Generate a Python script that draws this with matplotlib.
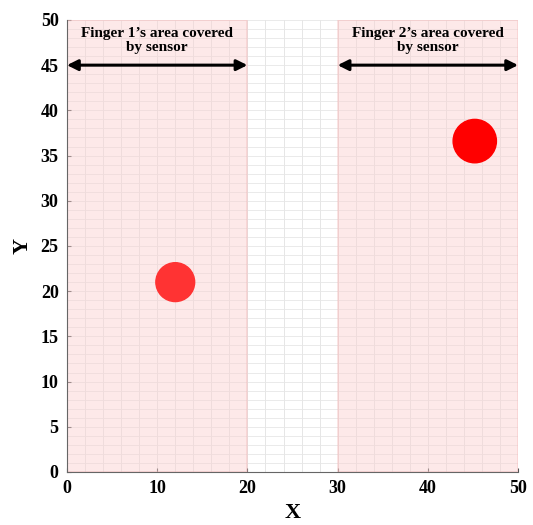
import matplotlib
matplotlib.use("Agg")
import matplotlib.pyplot as plt
from matplotlib.patches import Circle, Rectangle

# dados
areas = [(0, 20), (30, 50)]          # regioes cobertas pelo sensor (x)
area_labels = ["Finger 1\u2019s area covered\nby sensor",
               "Finger 2\u2019s area covered\nby sensor"]
arrow_y = 45
dedos_x = [12, 45.2]
dedos_y = [21, 36.6]
dedos_r = [2.15, 2.4]
dedos_cor = ["#ff3333", "#ff0000"]
ticks = [0, 10, 20, 30, 40, 50]
yticks = [0, 5, 10, 15, 20, 25, 30, 35, 40, 45, 50]

plt.rcParams['font.family'] = ['Liberation Serif', 'DejaVu Serif']
plt.rcParams['font.weight'] = 'bold'

fig = plt.figure(figsize=(5.33, 5.25), dpi=100)
ax = fig.add_axes([0.1257, 0.101, 0.8463, 0.861])

ax.set_xlim(0, 50)
ax.set_ylim(0, 50)

# grade fina
for gx in range(0, 51, 2):
    ax.axvline(gx, color="#e2e2e2", lw=0.6, zorder=1)
for gy in range(0, 51, 1):
    ax.axhline(gy, color="#e6e6e6", lw=0.6, zorder=1)

# areas rosadas
for (a, b) in areas:
    ax.add_patch(Rectangle((a, 0), b - a, 50, facecolor="#fbd0d0", alpha=0.45,
                           edgecolor="#f4b8b8", lw=1.2, zorder=2))

# setas e textos
for (a, b), lab in zip(areas, area_labels):
    ax.annotate("", xy=(a, arrow_y), xytext=(b, arrow_y),
                arrowprops=dict(arrowstyle="<|-|>", color="black", lw=2.2,
                                mutation_scale=16, shrinkA=0, shrinkB=0), zorder=5)
    ax.text((a + b) / 2, 47.7, lab, ha="center", va="center", fontsize=11,
            fontweight="bold", linespacing=1.15, zorder=5)

# dedos
for x, y, r, c in zip(dedos_x, dedos_y, dedos_r, dedos_cor):
    ax.add_patch(Circle((x, y), r, color=c, zorder=4))

ax.set_xticks(ticks)
ax.set_yticks(yticks)
ax.tick_params(direction="in", length=3, labelsize=13, color="#555555", pad=6)
for lab in ax.get_xticklabels() + ax.get_yticklabels():
    lab.set_fontweight("bold")
ax.spines["top"].set_visible(False)
ax.spines["right"].set_visible(False)
ax.spines["left"].set_color("#666666")
ax.spines["bottom"].set_color("#666666")
ax.set_xlabel("X", fontsize=16, fontweight="bold", labelpad=4)
ax.set_ylabel("Y", fontsize=16, fontweight="bold", labelpad=6)

plt.savefig("out.png", dpi=100)
